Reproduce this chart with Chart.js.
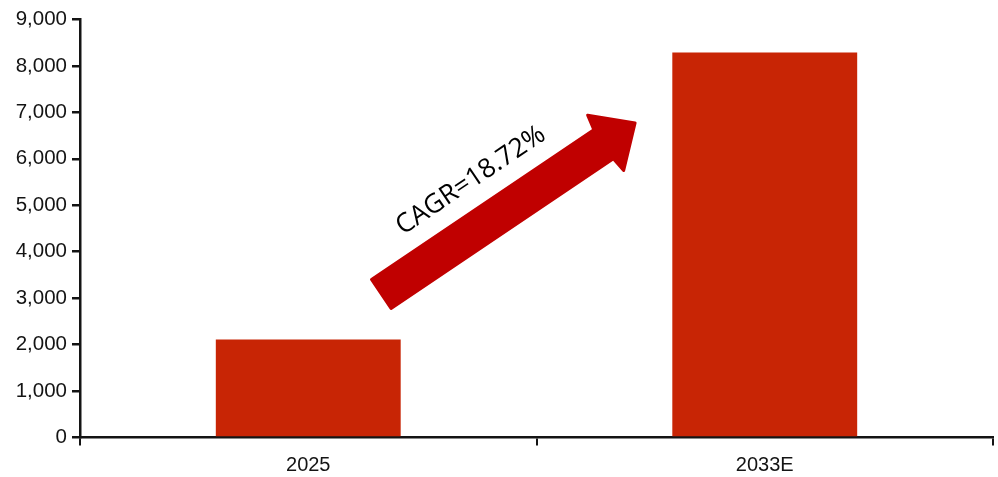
<!DOCTYPE html><html><head>
<title>CAGR Chart</title>
<style>
  body { margin: 0; background: #fff; }
  #wrap { width: 998px; height: 477px; }
</style>
</head>
<body>
<div id="wrap"><canvas id="chart"></canvas></div>
<script src="https://cdn.jsdelivr.net/npm/chart.js"></script>
<script>
    const years = ['2025', '2033E'];
    const values = [2110, 8290];
    const yTicks = [0, 1000, 2000, 3000, 4000, 5000, 6000, 7000, 8000, 9000];
    const cagrText = 'CAGR=18.72%';
    // arrow ends in axis units: [category index, value]
    const arrowFrom = [0.16, 3090];
    const arrowTo = [0.716, 6772];

    const ink = '#141414';

    // red arrow + rotated CAGR label, placed through the scales
    const cagrArrow = {
        id: 'cagrArrow',
        afterDatasetsDraw(chart) {
            const ctx = chart.ctx;
            const x = chart.scales.x, y = chart.scales.y;
            const x0 = x.getPixelForValue(arrowFrom[0]), y0 = y.getPixelForValue(arrowFrom[1]);
            const x1 = x.getPixelForValue(arrowTo[0]), y1 = y.getPixelForValue(arrowTo[1]);
            const ang = Math.atan2(y1 - y0, x1 - x0);
            const len = Math.hypot(x1 - x0, y1 - y0);
            ctx.save();
            ctx.translate(x0, y0);
            ctx.rotate(ang);
            ctx.beginPath();
            ctx.moveTo(0, -17.5);
            ctx.lineTo(len - 38, -17.5);
            ctx.lineTo(len - 35, -33);
            ctx.lineTo(len, 0);
            ctx.lineTo(len - 36, 33);
            ctx.lineTo(len - 38, 17.5);
            ctx.lineTo(0, 17.5);
            ctx.closePath();
            ctx.fillStyle = '#C00000';
            ctx.strokeStyle = '#C00000';
            ctx.lineJoin = 'round';
            ctx.lineWidth = 3;
            ctx.fill();
            ctx.stroke();
            ctx.font = '26.5px "Open Sans"';
            ctx.fillStyle = '#000';
            ctx.textAlign = 'center';
            ctx.textBaseline = 'middle';
            ctx.fillText(cagrText, len * 0.45, -44);
            ctx.restore();
        }
    };

    new Chart(document.getElementById('chart'), {
        type: 'bar',
        data: {
            labels: years,
            datasets: [{
                data: values,
                backgroundColor: '#C82505',
                borderWidth: 0,
                categoryPercentage: 1,
                barPercentage: 0.405
            }]
        },
        options: {
            responsive: true,
            maintainAspectRatio: false,
            animation: false,
            layout: { padding: { top: 19.5, right: 5, left: 0, bottom: 0 } },
            plugins: {
                legend: { display: false },
                tooltip: { enabled: false }
            },
            scales: {
                x: {
                    afterFit: s => { s.height = 39.5; },
                    grid: { display: true, drawOnChartArea: false, drawTicks: true, tickLength: 8, color: ink, lineWidth: 2 },
                    border: { display: true, color: ink, width: 2.5 },
                    ticks: { color: ink, padding: 8, font: { family: '"Liberation Sans", Arial', size: 20 } }
                },
                y: {
                    min: 0,
                    max: 9000,
                    afterFit: s => { s.width = 80; },
                    afterBuildTicks: s => { s.ticks = yTicks.map(v => ({ value: v })); },
                    grid: { display: true, drawOnChartArea: false, drawTicks: true, tickLength: 8, color: ink, lineWidth: 2.5 },
                    border: { display: true, color: ink, width: 2.5 },
                    ticks: {
                        color: ink,
                        padding: 5,
                        font: { family: '"Liberation Sans", Arial', size: 20.5 },
                        callback: v => v.toLocaleString('en-US')
                    }
                }
            }
        },
        plugins: [cagrArrow]
    });
</script>
</body></html>
